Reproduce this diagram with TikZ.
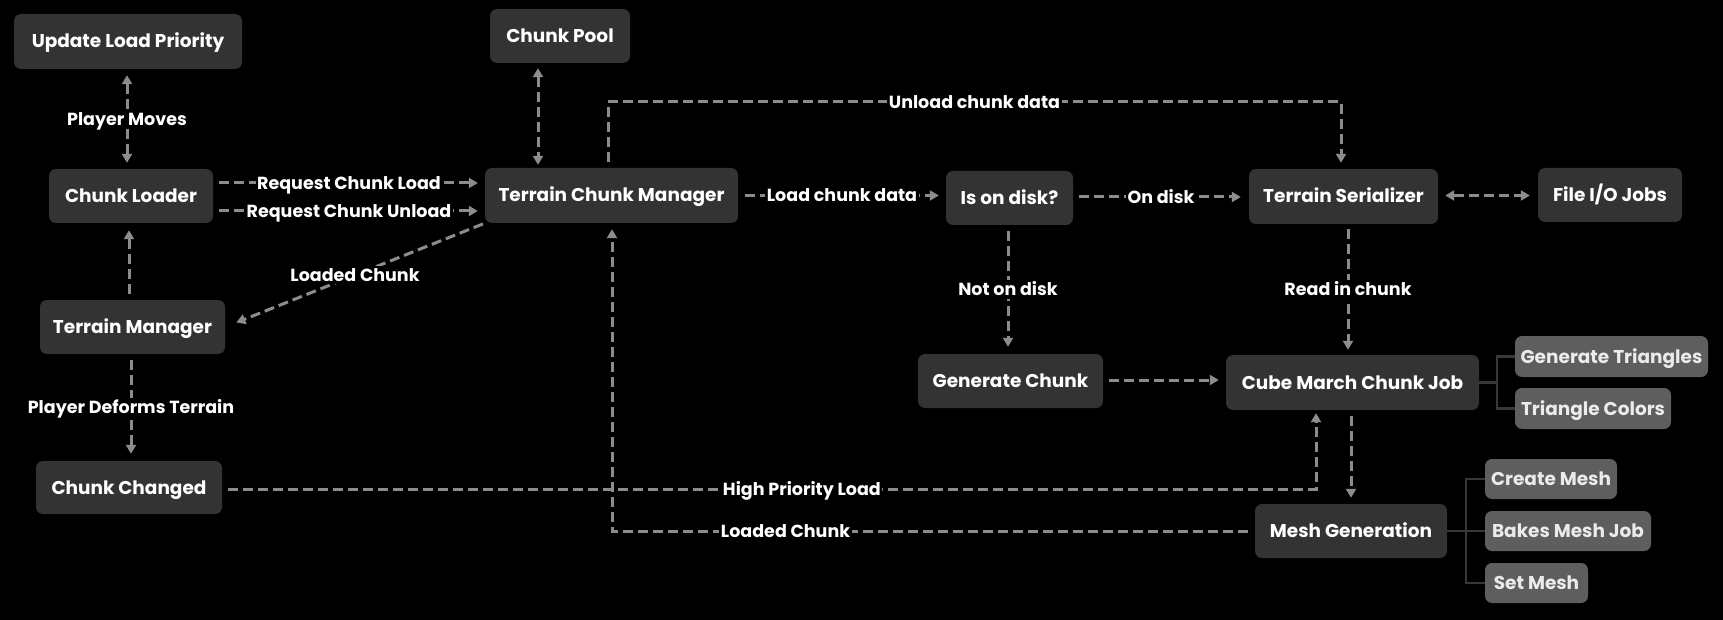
\documentclass[tikz,border=0pt]{standalone}
\usepackage{fontspec}
\setmainfont{Poppins}
\usetikzlibrary{arrows.meta,calc}
\definecolor{boxc}{HTML}{333333}
\definecolor{subc}{HTML}{5E5E5E}
\definecolor{edgec}{HTML}{8C8C8C}
\definecolor{treec}{HTML}{383838}
\begin{document}
\begin{tikzpicture}[x=1pt,y=-1pt,
  txt/.style={font=\fontsize{18.5}{21}\selectfont\bfseries, text height=13pt, text depth=0pt},
  ltxt/.style={font=\fontsize{17.5}{20}\selectfont\bfseries, text height=12.5pt, text depth=0pt},
  box/.style={txt, fill=boxc, rounded corners=7pt, text=white, inner sep=0pt},
  sub/.style={txt, fill=subc, rounded corners=7pt, text=white!92!black, inner sep=0pt},
  edge/.style={draw=edgec, line width=3pt, dash pattern=on 10pt off 5pt, -{Triangle[width=10pt,length=9pt]}},
  edge2/.style={draw=edgec, line width=3pt, dash pattern=on 10pt off 5pt, {Triangle[width=10pt,length=9pt]}-{Triangle[width=10pt,length=9pt]}},
  lbl/.style={ltxt, fill=black, text=white, inner xsep=1.5pt, inner ysep=3pt},
  tree/.style={draw=treec, line width=2.5pt}]
\fill[black] (0,0) rectangle (1723,620);
\useasboundingbox (0,0) rectangle (1723,620);

% main nodes
\node[box, minimum width=228pt, minimum height=55pt] (ulp) at (128,41.5) {Update Load Priority};
\node[box, minimum width=140pt, minimum height=54pt] (pool) at (560,36) {Chunk Pool};
\node[box, minimum width=164pt, minimum height=54pt] (loader) at (131,196) {Chunk Loader};
\node[box, minimum width=253pt, minimum height=55pt] (tcm) at (611.5,195.5) {Terrain Chunk Manager};
\node[box, minimum width=185pt, minimum height=54pt] (tm) at (132.5,327) {Terrain Manager};
\node[box, minimum width=186pt, minimum height=53pt] (changed) at (129,487.5) {Chunk Changed};
\node[box, minimum width=127pt, minimum height=54pt] (disk) at (1009.5,198) {Is on disk?};
\node[box, minimum width=189pt, minimum height=55pt] (ser) at (1343.5,196.5) {Terrain Serializer};
\node[box, minimum width=144pt, minimum height=54pt] (fio) at (1610,195) {File I/O Jobs};
\node[box, minimum width=185pt, minimum height=54pt] (gen) at (1010.5,381) {Generate Chunk};
\node[box, minimum width=253pt, minimum height=55pt] (cube) at (1352.5,382.5) {Cube March Chunk Job};
\node[box, minimum width=192pt, minimum height=54pt] (mesh) at (1351,531) {Mesh Generation};

% sub nodes
\node[sub, minimum width=193pt, minimum height=41pt] (gtri) at (1611.5,356.5) {Generate Triangles};
\node[sub, minimum width=156pt, minimum height=41pt] (tcol) at (1593,408.5) {Triangle Colors};
\node[sub, minimum width=132pt, minimum height=40pt] (cmesh) at (1551,479) {Create Mesh};
\node[sub, minimum width=166pt, minimum height=40pt] (bake) at (1568,531) {Bakes Mesh Job};
\node[sub, minimum width=103pt, minimum height=40pt] (setm) at (1536.5,583) {Set Mesh};

% tree connectors
\coordinate (t1) at (1497,382.5);
\coordinate (t2) at (1466,531);
\draw[tree] (cube.east) -- (t1);
\draw[tree] (gtri.west) -| (t1 |- tcol.west) -- (tcol.west);
\draw[tree] (mesh.east) -- (t2);
\draw[tree] (cmesh.west) -| (t2 |- setm.west) -- (setm.west);
\draw[tree] (t2) -- (bake.west);

% edges
\draw[edge2, shorten <=6pt, shorten >=6pt] ([xshift=-4pt]loader.north) -- ([xshift=-4pt]loader.north |- ulp.south) node[lbl, midway] {Player Moves};
\draw[edge, shorten <=6pt, shorten >=7pt] ([yshift=13pt]loader.east) -- ([yshift=13pt]loader.east -| tcm.west) node[lbl, midway] {Request Chunk Load};
\draw[edge, shorten <=6pt, shorten >=7pt] ([yshift=-15pt]loader.east) -- ([yshift=-15pt]loader.east -| tcm.west) node[lbl, midway] {Request Chunk Unload};
\draw[edge2, shorten <=5pt, shorten >=3pt] ([xshift=-22pt]pool.south) -- ([xshift=-22pt]pool.south |- tcm.north);
\draw[edge, shorten <=2pt, shorten >=12pt] (tcm.south west) -- (tm.east) node[lbl, midway] {Loaded Chunk};
\draw[edge, shorten <=6pt, shorten >=7pt] ([xshift=-3.5pt]tm.north) -- ([xshift=-3.5pt]tm.north |- loader.south);
\draw[edge, shorten <=6pt, shorten >=7pt] ([xshift=-1.5pt]tm.south) -- ([xshift=-1.5pt]tm.south |- changed.north) node[lbl, midway] {Player Deforms Terrain};

\coordinate (u1) at (608,102);
\coordinate (u2) at (1341,102);
\draw[edge, shorten <=6pt, shorten >=6pt] (u1 |- tcm.north) -- (u1) -- node[lbl] {Unload chunk data} (u2) -- (u2 |- ser.north);

\draw[edge, shorten <=7pt, shorten >=7pt] (tcm.east) -- (tcm.east -| disk.west) node[lbl, midway] {Load chunk data};
\draw[edge, shorten <=6pt, shorten >=8pt] ([yshift=1pt]disk.east) -- ([yshift=1pt]disk.east -| ser.west) node[lbl, midway] {On disk};
\draw[edge2, shorten <=7pt, shorten >=8pt] ([yshift=1pt]ser.east) -- ([yshift=1pt]ser.east -| fio.west);
\draw[edge, shorten <=6pt, shorten >=7pt] ([xshift=-1.5pt]disk.south) -- ([xshift=-1.5pt]disk.south |- gen.north) node[lbl, midway] {Not on disk};
\draw[edge, shorten <=5pt, shorten >=5pt] ([xshift=4.5pt]ser.south) -- ([xshift=4.5pt]ser.south |- cube.north) node[lbl, midway] {Read in chunk};
\draw[edge, shorten <=6pt, shorten >=7pt] ([yshift=1pt]gen.east) -- ([yshift=1pt]gen.east -| cube.west);
\draw[edge, shorten <=6pt, shorten >=6pt] ([xshift=-1.5pt]cube.south) -- ([xshift=-1.5pt]cube.south |- mesh.north);

\coordinate (h1) at (1316,489.5);
\draw[edge, shorten <=6pt, shorten >=3pt] ([yshift=-2pt]changed.east) -- node[lbl, pos=0.53] {High Priority Load} (h1) -- (h1 |- cube.south);

\coordinate (l1) at (612,531);
\draw[edge, shorten <=7pt, shorten >=6pt] (mesh.west) -- node[lbl, pos=0.73] {Loaded Chunk} (l1) -- (l1 |- tcm.south);
\end{tikzpicture}
\end{document}
